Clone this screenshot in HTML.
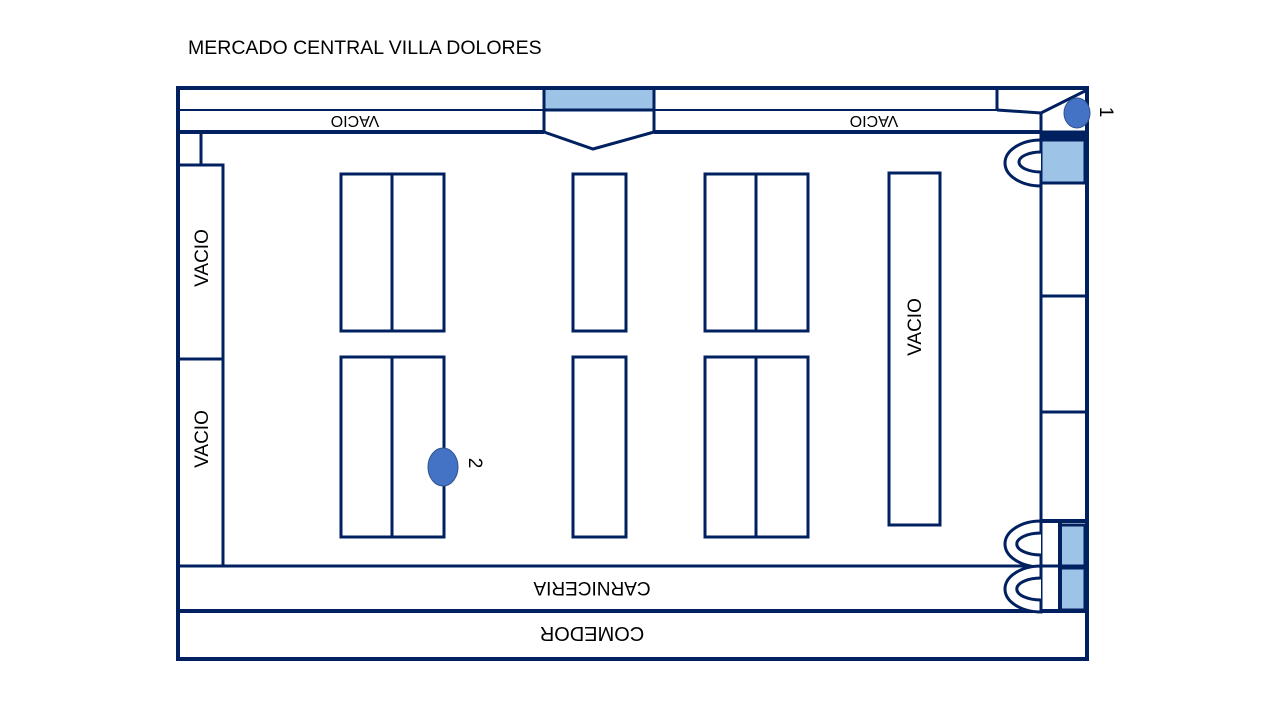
<!DOCTYPE html><html><head><style>body{margin:0;background:#fff}svg{display:block}text{font-family:"Liberation Sans",sans-serif;fill:#000}</style></head><body>
<svg width="1280" height="720" viewBox="0 0 1280 720">
<text x="188" y="54" font-size="19.5">MERCADO CENTRAL VILLA DOLORES</text>
<g fill="none" stroke="#002060" stroke-width="3">
<rect x="544" y="88" width="110" height="22" fill="#9DC3E6"/>
<rect x="1041" y="140" width="44" height="43" fill="#9DC3E6"/>
<rect x="1060" y="525" width="25" height="41" fill="#9DC3E6"/>
<rect x="1060" y="568" width="25" height="42" fill="#9DC3E6"/>
<line x1="178" y1="110" x2="997" y2="110" stroke-width="2"/>
<line x1="178" y1="132" x2="544" y2="132" stroke-width="4"/>
<line x1="654" y1="132" x2="1041" y2="132" stroke-width="4"/>
<line x1="544" y1="88" x2="544" y2="132"/><line x1="654" y1="88" x2="654" y2="132"/>
<polyline points="544,132 593,149 654,132"/>
<line x1="997" y1="88" x2="997" y2="110"/>
<polyline points="997,110 1041,113 1087,90"/>
<line x1="1041" y1="113" x2="1041" y2="611"/>
<rect x="1041" y="132" width="46" height="8" fill="#002060"/>
<line x1="1041" y1="296" x2="1087" y2="296"/><line x1="1041" y1="412" x2="1087" y2="412"/>
<line x1="1041" y1="521" x2="1087" y2="521" stroke-width="4"/>
<line x1="1060" y1="521" x2="1060" y2="611" stroke-width="4"/>
<line x1="201" y1="132" x2="201" y2="165"/>
<rect x="178" y="165" width="45" height="401"/>
<line x1="178" y1="359" x2="223" y2="359"/>
<line x1="178" y1="566" x2="1087" y2="566" stroke-width="3"/>
<line x1="178" y1="611" x2="1087" y2="611" stroke-width="4"/>
<rect x="341" y="174" width="103" height="157"/><line x1="392" y1="174" x2="392" y2="331"/>
<rect x="573" y="174" width="53" height="157"/>
<rect x="705" y="174" width="103" height="157"/><line x1="756" y1="174" x2="756" y2="331"/>
<rect x="889" y="173" width="51" height="352"/>
<rect x="341" y="357" width="103" height="180"/><line x1="392" y1="357" x2="392" y2="537"/>
<rect x="573" y="357" width="53" height="180"/>
<rect x="705" y="357" width="103" height="180"/><line x1="756" y1="357" x2="756" y2="537"/>
<g fill="#fff">
<path d="M1041,140 A36,23 0 0 0 1041,186 Z"/><path d="M1041,152 A22,10 0 0 0 1041,172"/>
<path d="M1041,521 A36,23 0 0 0 1041,567 Z"/><path d="M1041,533 A22,10 0 0 0 1041,555"/>
<path d="M1041,566 A36,23 0 0 0 1041,612 Z"/><path d="M1041,578 A22,10 0 0 0 1041,600"/>
</g>
<rect x="178" y="88" width="909" height="571" stroke-width="4"/>
</g>
<ellipse cx="1077" cy="113" rx="13" ry="15" fill="#4472C4" stroke="#2F528F"/>
<ellipse cx="443" cy="467" rx="15" ry="19" fill="#4472C4" stroke="#2F528F"/>
<g font-size="16">
<text transform="translate(355,116) rotate(180)" text-anchor="middle">VACIO</text>
<text transform="translate(874,116) rotate(180)" text-anchor="middle">VACIO</text>
<text transform="translate(592,582) rotate(180)" text-anchor="middle" font-size="19">CARNICERIA</text>
<text transform="translate(592,627) rotate(180)" text-anchor="middle" font-size="20">COMEDOR</text>
<text transform="translate(208,258) rotate(-90)" text-anchor="middle" font-size="19">VACIO</text>
<text transform="translate(208,439) rotate(-90)" text-anchor="middle" font-size="19">VACIO</text>
<text transform="translate(921,327) rotate(-90)" text-anchor="middle" font-size="19">VACIO</text>
<text transform="translate(1100,112) rotate(90)" text-anchor="middle" font-size="19">1</text>
<text transform="translate(469,463) rotate(90)" text-anchor="middle" font-size="19">2</text>
</g>
</svg></body></html>
